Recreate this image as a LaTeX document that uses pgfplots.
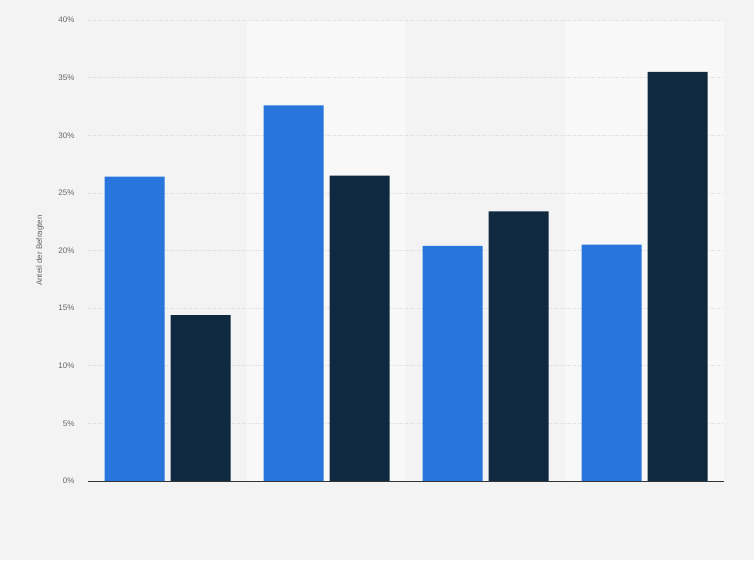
\documentclass[border=0pt]{standalone}
\usepackage{fontspec}
\setmainfont{Liberation Sans}
\usepackage{pgfplots}
\pgfplotsset{compat=1.18}
\definecolor{bg}{HTML}{F3F3F3}
\definecolor{band}{HTML}{F8F8F8}
\definecolor{sblue}{HTML}{2876DD}
\definecolor{snavy}{HTML}{0F2940}
\definecolor{txt}{HTML}{666666}
\definecolor{gridc}{HTML}{D6D6D6}
\begin{document}
\begin{tikzpicture}
\fill[bg] (0pt,0pt) rectangle (754pt,560pt);
\begin{axis}[
  at={(88pt,79pt)}, anchor=south west,
  scale only axis, width=636pt, height=461pt,
  xmin=-0.5, xmax=3.5, ymin=0, ymax=40,
  axis background/.style={fill=bg, path picture={
    \fill[band] ([xshift=159pt]path picture bounding box.south west) rectangle ([xshift=318pt]path picture bounding box.north west);
    \fill[band] ([xshift=477pt]path picture bounding box.south west) rectangle (path picture bounding box.north east);}},
  xtick=\empty,
  ytick={0,5,...,40},
  yticklabel={\pgfmathprintnumber{\tick}\%},
  /pgf/number format/assume math mode=true,
  major tick length=0pt,
  axis x line=bottom, axis y line=left,
  x axis line style={draw=none},
  y axis line style={draw=none},
  ymajorgrids,
  grid style={dotted, draw=gridc, line width=0.7pt},
  ticklabel style={font=\fontsize{8}{9.6}\selectfont, text=txt},
  yticklabel style={xshift=-10pt},
  every axis y label/.style={at={(axis description cs:-0.0755,0.5)}, rotate=90, anchor=center, font=\fontsize{8}{9.6}\selectfont, text=txt},
  ylabel={Anteil der Befragten},
  ybar, bar width=60pt,
]
\addplot[fill=sblue, draw=none, bar shift=-33pt]
  coordinates {(0,26.4) (1,32.6) (2,20.4) (3,20.5)};
\addplot[fill=snavy, draw=none, bar shift=33pt]
  coordinates {(0,14.4) (1,26.5) (2,23.4) (3,35.5)};
\draw[black!80, line width=0.9pt] (rel axis cs:0,0) -- (rel axis cs:1,0);
\end{axis}
\end{tikzpicture}
\end{document}
